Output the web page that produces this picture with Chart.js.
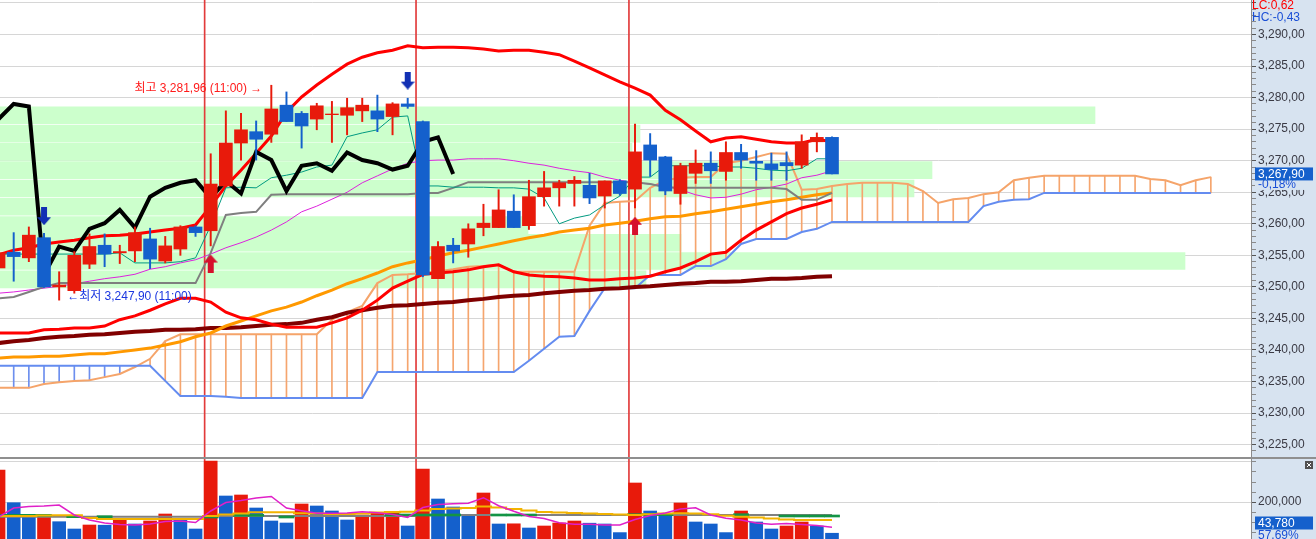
<!DOCTYPE html>
<html><head><meta charset="utf-8">
<script src="https://cdn.jsdelivr.net/npm/chart.js@4.4.1/dist/chart.umd.min.js"></script>
<style>
html,body{margin:0;padding:0;background:#fff;overflow:hidden}
#wrap{position:relative;width:1316px;height:539px}
#c1{position:absolute;left:0;top:0}
#sep{position:absolute;left:0;top:457px;width:1316px;height:2px;background:#8f8f8f}
#c2{position:absolute;left:0;top:459px}
</style></head><body>
<div id="wrap"><canvas id="c1" width="1316" height="457"></canvas><div id="sep"></div><canvas id="c2" width="1316" height="80"></canvas></div>
<script>
// ---------------- DATA ----------------
const opens  = [3253.0,3255.5,3254.6,3257.8,3250.0,3249.4,3253.6,3256.6,3255.4,3255.7,3257.6,3254.1,3256.0,3259.5,3258.9,3266.0,3272.8,3274.6,3274.2,3278.8,3277.5,3276.6,3277.3,3277.2,3277.9,3277.9,3277.0,3279.0,3276.2,3251.3,3256.6,3256.8,3259.4,3259.4,3262.0,3259.7,3264.3,3265.7,3266.4,3266.1,3264.4,3266.8,3265.5,3272.5,3270.6,3264.8,3268.0,3269.6,3268.3,3271.3,3269.9,3269.5,3269.7,3269.3,3273.0,3273.7];
const highs  = [3256.0,3258.6,3259.5,3258.5,3252.4,3255.6,3258.4,3258.4,3256.6,3259.5,3259.3,3258.0,3259.7,3259.7,3271.1,3277.9,3277.5,3276.3,3281.96,3280.9,3277.8,3279.1,3279.4,3279.9,3279.9,3280.4,3279.2,3279.9,3276.3,3257.2,3257.7,3260.0,3263.1,3265.4,3264.6,3266.9,3268.3,3266.9,3267.5,3268.0,3266.8,3267.0,3275.8,3274.3,3270.7,3269.6,3271.7,3271.4,3273.0,3272.6,3271.6,3271.2,3271.4,3274.1,3274.4,3273.8];
const lows   = [3252.5,3250.9,3254.0,3249.9,3247.9,3249.0,3252.9,3253.2,3253.7,3254.0,3252.9,3253.8,3255.0,3258.0,3256.5,3266.0,3270.1,3270.1,3272.9,3276.2,3272.0,3274.9,3272.9,3274.1,3276.2,3274.6,3274.1,3278.3,3251.6,3251.3,3253.8,3254.7,3258.1,3259.4,3259.4,3259.1,3262.8,3262.8,3262.8,3263.2,3262.5,3264.5,3262.5,3267.5,3264.6,3263.1,3266.4,3266.4,3266.9,3268.8,3266.9,3266.9,3266.9,3268.8,3271.4,3267.9];
const closes = [3255.4,3254.8,3258.2,3250.0,3250.3,3255.0,3256.4,3255.2,3255.6,3258.6,3254.4,3256.5,3259.5,3258.6,3266.3,3272.8,3274.9,3273.4,3278.2,3276.2,3275.5,3278.7,3277.4,3278.4,3278.8,3276.6,3279.0,3278.6,3251.9,3256.4,3255.7,3259.2,3260.1,3262.2,3259.4,3264.3,3265.7,3266.5,3266.9,3264.1,3266.8,3264.8,3271.4,3270.1,3265.2,3269.2,3269.6,3268.4,3271.3,3270.1,3269.6,3268.6,3269.2,3273.0,3273.7,3267.9];
const volumes = [360000,196500,130000,132000,101500,65000,85000,84000,110000,90000,105000,140000,110000,65000,405000,230000,235000,170000,105000,95000,190000,180000,155000,110000,135000,143500,148500,80000,365000,215000,175000,130000,245000,90000,91000,70000,80000,95000,105000,94000,90000,47000,295000,155000,140000,195000,100000,90000,47000,155000,100000,65000,80000,100000,80000,43780];

// Bollinger bands
const bbUpper = [3255.1,3255.8,3256.2,3256.8,3257.1,3257.4,3257.8,3258.1,3258.2,3258.4,3258.7,3259.0,3259.3,3259.8,3262.8,3266.0,3268.5,3271.2,3273.9,3277.7,3280.1,3282.0,3283.7,3285.3,3286.4,3287.1,3287.5,3288.2,3287.9,3288.0,3288.0,3287.9,3287.7,3287.4,3287.5,3287.5,3287.2,3286.8,3285.8,3284.7,3283.6,3282.5,3281.5,3280.4,3278.0,3276.5,3274.7,3273.0,3273.6,3273.8,3273.4,3273.0,3272.8,3272.8,3273.4,3273.0];
const bbMid   = [3249.0,3249.2,3249.5,3249.8,3250.1,3250.5,3250.9,3251.3,3251.6,3252.0,3252.8,3253.2,3253.8,3254.3,3255.2,3256.2,3257.0,3257.9,3259.0,3260.3,3261.9,3262.8,3263.9,3265.0,3266.5,3267.6,3268.7,3269.6,3270.0,3270.1,3270.1,3270.3,3270.3,3270.3,3270.0,3269.6,3269.3,3268.8,3268.4,3268.1,3267.4,3266.9,3266.5,3266.3,3266.0,3265.4,3264.6,3264.1,3264.2,3264.7,3265.4,3265.8,3266.3,3267.3,3267.7,3268.4];
const bbLower = [3242.7,3242.7,3242.7,3243.2,3243.3,3243.5,3243.5,3243.8,3244.8,3245.4,3246.3,3247.3,3248.2,3248.2,3247.6,3246.0,3245.1,3244.8,3244.1,3243.6,3243.6,3243.6,3244.3,3245.1,3246.3,3247.9,3249.8,3250.9,3252.0,3252.2,3252.4,3252.7,3253.2,3253.5,3252.4,3251.9,3251.7,3251.6,3251.4,3251.1,3251.1,3251.3,3251.4,3251.7,3252.4,3253.0,3254.0,3255.2,3255.5,3257.4,3259.0,3260.3,3261.6,3262.5,3263.1,3263.8];
// moving averages
const maMid  = [3238.7,3238.9,3238.9,3239.0,3239.0,3239.2,3239.4,3239.4,3239.7,3240.0,3240.3,3240.8,3241.3,3242.1,3242.7,3243.8,3244.6,3245.4,3246.2,3246.8,3247.6,3248.6,3249.5,3250.5,3251.3,3252.2,3253.2,3253.8,3254.3,3254.9,3255.4,3255.8,3256.3,3256.8,3257.3,3257.8,3258.2,3258.7,3259.0,3259.3,3259.8,3260.1,3260.4,3260.8,3261.1,3261.2,3261.6,3261.9,3262.3,3262.7,3263.1,3263.5,3263.8,3264.2,3264.6,3264.9];
const maLong = [3241.1,3241.4,3241.6,3241.9,3242.1,3242.2,3242.4,3242.5,3242.7,3242.9,3243.0,3243.2,3243.2,3243.3,3243.5,3243.5,3243.6,3243.8,3244.0,3244.1,3244.3,3244.8,3245.2,3245.9,3246.3,3246.7,3247.0,3247.1,3247.3,3247.5,3247.6,3247.9,3248.1,3248.4,3248.6,3248.7,3249.0,3249.2,3249.4,3249.5,3249.7,3249.8,3250.0,3250.1,3250.3,3250.5,3250.6,3250.8,3250.8,3250.9,3251.1,3251.3,3251.3,3251.4,3251.6,3251.7];
// Ichimoku
const tenkan = [3255.2,3255.2,3255.2,3255.2,3255.2,3255.2,3255.2,3255.2,3255.4,3253.8,3253.8,3253.8,3254.0,3254.6,3259.7,3265.7,3265.8,3265.7,3267.3,3267.7,3268.2,3269.0,3269.3,3273.8,3274.4,3274.9,3276.9,3277.1,3266.0,3266.0,3265.8,3265.8,3265.8,3265.7,3265.7,3265.5,3264.1,3260.0,3260.9,3261.4,3263.0,3264.4,3267.4,3267.4,3269.2,3269.2,3269.2,3269.2,3269.0,3269.0,3268.8,3268.5,3268.4,3268.8,3270.3,3270.3];
const kijun  = [3248.2,3248.4,3249.2,3250.0,3250.6,3250.6,3250.6,3250.6,3250.6,3250.6,3250.6,3250.6,3250.6,3250.6,3255.4,3261.4,3261.7,3261.9,3264.6,3264.7,3264.7,3264.7,3264.7,3264.7,3264.7,3264.7,3264.7,3264.7,3264.9,3264.9,3265.7,3266.6,3266.6,3266.6,3266.6,3266.6,3266.6,3266.6,3266.6,3266.6,3266.6,3266.6,3266.6,3266.3,3265.8,3265.7,3265.7,3265.7,3265.7,3265.7,3265.7,3265.7,3265.5,3263.8,3263.8,3264.9];
const spanA  = [3234.0,3234.0,3234.0,3234.6,3234.9,3235.1,3235.2,3235.7,3236.2,3237.3,3238.6,3241.4,3242.5,3242.5,3242.5,3242.5,3242.5,3242.5,3242.5,3242.5,3242.5,3242.5,3244.8,3246.0,3247.0,3250.6,3251.9,3252.0,3252.2,3252.5,3252.8,3253.2,3253.3,3253.5,3252.4,3252.4,3252.4,3252.4,3252.4,3259.7,3263.3,3263.5,3263.6,3265.7,3266.9,3267.3,3267.4,3267.4,3269.6,3270.0,3270.6,3271.2,3271.1,3265.4,3265.5,3266.0,3266.3,3266.5,3266.5,3266.5,3266.3,3265.2,3263.3,3263.9,3264.1,3264.7,3265.0,3266.9,3267.3,3267.6,3267.6,3267.6,3267.6,3267.6,3267.6,3267.6,3267.1,3266.9,3266.1,3266.9,3267.4];
const spanB  = [3237.5,3237.5,3237.5,3237.5,3237.5,3237.5,3237.5,3237.5,3237.5,3237.5,3237.5,3235.1,3232.7,3232.7,3232.7,3232.6,3232.4,3232.4,3232.4,3232.4,3232.4,3232.4,3232.4,3232.4,3232.4,3236.5,3236.5,3236.5,3236.5,3236.5,3236.5,3236.5,3236.5,3236.5,3236.5,3238.3,3240.2,3242.1,3242.2,3246.2,3249.8,3249.8,3249.8,3251.9,3251.9,3251.9,3253.3,3253.3,3254.4,3256.8,3257.6,3257.6,3257.6,3258.7,3259.2,3260.3,3260.3,3260.3,3260.3,3260.3,3260.3,3260.3,3260.3,3260.3,3260.3,3262.8,3263.5,3263.8,3263.9,3264.9,3264.9,3264.9,3264.9,3264.9,3264.9,3264.9,3264.9,3264.9,3264.9,3264.9,3264.9];
const LAG = 25; // lagging span shift (bars)

// price-by-volume profile
const profilePrice  = [3277.2,3274.3,3271.4,3268.5,3265.6,3262.7,3259.8,3257.0,3254.1,3251.2];
const profileVolume = [2190,1280,1264,1864,1828,436,1056,1362,2370,1292];

// volume indicators
const volMA5  = [125000,170000,177500,180000,185000,135000,110000,95000,87500,85000,90000,102500,105000,97500,155000,197500,207500,220000,227500,170000,156500,143500,143500,145000,151500,146500,137500,122500,172500,187500,191500,193500,221500,181500,153500,127500,117500,96500,88500,88500,85000,85000,112500,132500,145000,165000,171500,135000,118500,110000,95000,88500,92500,87500,82500,73500];
const volMA20 = [130000,130000,130000,132500,133500,133500,120000,115000,115000,115000,115000,115000,115000,115000,130000,137500,142500,148500,148500,148500,143500,142500,140000,140000,142500,147500,150000,151500,157500,165000,167500,170000,177500,172500,165000,157500,150000,147500,145000,142500,140000,137500,135000,138500,142500,143500,142500,138500,131000,126500,122500,117500,112500,110000,110000,110000];
const volBase = [126500,126500,126500,126500,126500,126500,126500,126500,126500,126500,126500,126500,126500,126500,130000,130000,130000,130000,130000,130000,130000,130000,130000,130000,130000,130000,130000,130000,135000,135000,135000,135000,135000,135000,135000,135000,135000,135000,135000,135000,135000,135000,135000,135000,135000,135000,135000,135000,135000,135000,135000,135000,135000,135000,135000,135000];
const volSignal = [133500,133500,133500,133500,null,126500,null,126500,null,null,null,null,null,null,125000,null,133500,133500,null,125000,null,null,null,null,null,null,135000,135000,135000,135000,135000,null,null,135000,135000,135000,null,null,null,null,null,null,136500,136500,136500,null,null,null,null,136500,null,null,130000,130000,130000,130000];

// session breaks (bar positions) and signals
const sessionBreaks = [13.6, 27.55, 41.6];
const sellSignals = [{x:3, y:3261.2}, {x:27, y:3282.7}];
const buySignals  = [{x:14, y:3253.7}, {x:42, y:3259.7}];
const extremeTime = '11:00';

// axis / side texts
const priceLabelTicks = [3225,3230,3235,3240,3245,3250,3255,3260,3265,3270,3275,3280,3285,3290];
const volLabelTicks = [200000];
const volGridTicks = [200000, 400000];
const lcText = 'LC:0,62', hcText = 'HC:-0,43';
const changePctText = '-0,18%';
const volPctText = '57,69%';

// ---------------- HELPERS ----------------
const Y_MIN = 3223.04, Y_MAX = 3295.47;
const V_MIN = 15000, V_MAX = 415000;
const X_MIN = 0.096, X_MAX = 82.65;
const AXIS_W = 65;
const UP = '#e81a0b', DOWN = '#1460cc', PANEL = '#d7e3f0';
const FONT = "'Liberation Sans', Arial, 'Noto Sans CJK KR', sans-serif";

function grp(s){ return s.replace(/\B(?=(\d{3})+(?!\d))/g, ','); }
function fmtPrice(v){ const [a,b] = v.toFixed(2).split('.'); return grp(a) + ',' + b; }
function fmtInt(v){ return grp(String(Math.round(v))); }
const pts = arr => arr.map((v,i) => ({x:i, y:v}));
const nopad = s => { s.paddingLeft = 0; s.paddingRight = 0; s.paddingTop = 0; s.paddingBottom = 0; };
function hx(){ return {type:'linear', axis:'x', display:false, min:X_MIN, max:X_MAX, offset:false, ticks:{display:false}, grid:{display:false}, afterFit:nopad}; }
function hidden(axis, min, max){ return {type:'linear', axis, display:false, min, max, offset:false, ticks:{display:false}, grid:{display:false}, afterFit:nopad}; }
function line(data, color, width, order, extra){ return Object.assign({type:'line', data, borderColor:color, borderWidth:width, pointRadius:0, tension:0, fill:false, xAxisID:'x', yAxisID:'y', order}, extra||{}); }
function bar(xAxisID, data, color, thick, order, extra){ return Object.assign({type:'bar', xAxisID, yAxisID:'y', data, backgroundColor:color, barThickness:thick, maxBarThickness:thick, grouped:false, borderWidth:0, order}, extra||{}); }

function arrowImg(color, down){
  const c = document.createElement('canvas'); c.width = 14; c.height = 18;
  const g = c.getContext('2d'); g.fillStyle = color; g.beginPath();
  if (down){ g.moveTo(4,0); g.lineTo(10,0); g.lineTo(10,10); g.lineTo(14,10); g.lineTo(7,18); g.lineTo(0,10); g.lineTo(4,10); }
  else { g.moveTo(7,0); g.lineTo(14,8); g.lineTo(10,8); g.lineTo(10,18); g.lineTo(4,18); g.lineTo(4,8); g.lineTo(0,8); }
  g.closePath(); g.fill(); return c;
}

const candleColors = closes.map((c,i) => c >= opens[i] ? UP : DOWN);
const volColors = volumes.map((v,i) => v >= (i ? volumes[i-1] : 0) ? UP : DOWN);
const chikou = closes.slice(LAG).map((c,k) => ({x:k, y:c}));
const priceMinorTicks = []; for (let v = 3224; v <= 3295; v++) priceMinorTicks.push(v);
const volMinorTicks = []; for (let v = 50000; v <= 400000; v += 50000) volMinorTicks.push(v);

// ---------------- PRICE CHART ----------------
const mainDeco = {
  id:'mainDeco',
  beforeDraw(chart){
    const {ctx, chartArea:a, width, height} = chart;
    ctx.save(); ctx.fillStyle = PANEL; ctx.fillRect(a.right, 0, width - a.right, height); ctx.restore();
  },
  afterDatasetsDraw(chart){
    const {ctx} = chart, sx = chart.scales.x, sy = chart.scales.y;
    const hi = Math.max(...highs), lo = Math.min(...lows);
    const hiI = highs.indexOf(hi), loI = lows.indexOf(lo);
    ctx.save();
    ctx.font = '12px ' + FONT; ctx.textBaseline = 'middle';
    ctx.fillStyle = '#ff1a1a'; ctx.textAlign = 'right';
    ctx.fillText('최고 ' + fmtPrice(hi) + ' (' + extremeTime + ') →', sx.getPixelForValue(hiI) - 9, sy.getPixelForValue(hi) + 3);
    ctx.fillStyle = '#1a36e0'; ctx.textAlign = 'left';
    ctx.fillText('←최저 ' + fmtPrice(lo) + ' (' + extremeTime + ')', sx.getPixelForValue(loI) + 8, sy.getPixelForValue(lo) - 3);
    ctx.restore();
  },
  afterDraw(chart){
    const {ctx, chartArea:a} = chart, sy = chart.scales.y;
    const x0 = a.right;
    ctx.save();
    ctx.font = '12px ' + FONT; ctx.textBaseline = 'middle'; ctx.textAlign = 'left';
    ctx.fillStyle = '#ff0000'; ctx.fillText(lcText, x0 + 1, 6);
    ctx.fillStyle = '#1a4fd6'; ctx.fillText(hcText, x0 + 1, 18);
    const last = closes[closes.length - 1];
    const y = sy.getPixelForValue(last);
    ctx.fillStyle = PANEL; ctx.fillRect(x0 + 4, y + 6, 58, 10);
    ctx.fillStyle = '#1a4fd6'; ctx.fillText(changePctText, x0 + 7, y + 11);
    ctx.fillStyle = '#1560cc'; ctx.fillRect(x0 + 4, y - 6.5, 58, 13);
    ctx.fillStyle = '#ffffff'; ctx.fillText(fmtPrice(last), x0 + 7, y + 0.5);
    ctx.restore();
  }
};

new Chart(document.getElementById('c1'), {
  type:'line',
  data:{ datasets:[
    {type:'bar', indexAxis:'y', xAxisID:'xv', yAxisID:'yp', data: profilePrice.map((p,k) => ({x:profileVolume[k], y:p})), backgroundColor:'#ccffcc', barThickness:17, maxBarThickness:17, grouped:false, borderWidth:0, order:100},
    bar('xs', sessionBreaks.map(b => ({x:b, y:[Y_MIN, Y_MAX]})), '#e23b3b', 1, 95),
    bar('xh', spanA.map((v,j) => ({x:j, y:[v, spanB[j]]})), spanA.map((v,j) => v >= spanB[j] ? '#f5a56e' : '#6d8fee'), 1, 90),
    line(pts(spanA), '#f5a46a', 2, 85),
    line(pts(spanB), '#648cf0', 2, 84),
    line(pts(maLong), '#800000', 4, 80),
    line(pts(maMid), '#ff9900', 3, 79),
    line(pts(bbUpper), '#ff0000', 3, 78),
    line(pts(bbLower), '#ff0000', 3, 78),
    line(pts(bbMid), '#dd22dd', 1, 77),
    line(pts(kijun), '#7f7f7f', 2, 76),
    line(pts(tenkan), '#009a80', 1, 75),
    line(chikou, '#000000', 4, 70),
    bar('xw', lows.map((l,i) => ({x:i, y:[l, highs[i]]})), candleColors, 1.3, 60),
    bar('xb', opens.map((o,i) => ({x:i, y:[o, closes[i]]})), candleColors, 13, 50),
    {type:'line', xAxisID:'x', yAxisID:'y', data: sellSignals, showLine:false, pointStyle: arrowImg('#1230b4', true), pointRadius:9, order:40},
    {type:'line', xAxisID:'x', yAxisID:'y', data: buySignals, showLine:false, pointStyle: arrowImg('#d6102c', false), pointRadius:9, order:40}
  ]},
  options:{
    responsive:false, animation:false, events:[],
    layout:{padding:0, autoPadding:false},
    plugins:{legend:{display:false}, tooltip:{enabled:false}},
    scales:{
      x:hx(), xs:hx(), xh:hx(), xw:hx(), xb:hx(),
      xv: hidden('x', 0, 2502),
      yp: hidden('y', Y_MIN, Y_MAX),
      y:{
        type:'linear', axis:'y', position:'right', min:Y_MIN, max:Y_MAX,
        afterBuildTicks: s => { s.ticks = priceMinorTicks.map(v => ({value:v})); },
        ticks:{ autoSkip:false, padding:2, color:'#3a3a44', font:{family:FONT, size:12},
          callback: v => priceLabelTicks.includes(v) ? fmtPrice(v) : '' },
        grid:{ drawTicks:true, tickLength:5,
          color: c => (c.tick && c.tick.value % 5 === 0) ? '#d6d6d6' : 'rgba(0,0,0,0)',
          tickColor: c => (c.tick && c.tick.value % 5 === 0) ? '#555' : '#8a8a8a' },
        border:{display:true, color:'#8a8a8a', width:1},
        afterFit: s => { s.width = AXIS_W; nopad(s); }
      }
    }
  },
  plugins:[mainDeco]
});

// ---------------- VOLUME CHART ----------------
const volDeco = {
  id:'volDeco',
  beforeDraw(chart){
    const {ctx, chartArea:a, width, height} = chart;
    ctx.save(); ctx.fillStyle = PANEL; ctx.fillRect(a.right, 0, width - a.right, height); ctx.restore();
  },
  afterDraw(chart){
    const {ctx, chartArea:a} = chart, sy = chart.scales.y;
    const x0 = a.right;
    const last = volumes[volumes.length - 1];
    const y = Math.min(sy.getPixelForValue(last), a.bottom - 16);
    ctx.save();
    ctx.font = '12px ' + FONT; ctx.textBaseline = 'middle'; ctx.textAlign = 'left';
    ctx.fillStyle = '#1560cc'; ctx.fillRect(x0 + 4, y - 6.5, 58, 13);
    ctx.fillStyle = '#ffffff'; ctx.fillText(fmtInt(last), x0 + 7, y + 0.5);
    ctx.fillStyle = '#1a4fd6'; ctx.fillText(volPctText, x0 + 7, y + 13);
    ctx.fillStyle = '#505050'; ctx.fillRect(x0 + 54, 2, 8, 8);
    ctx.strokeStyle = '#ffffff'; ctx.lineWidth = 1;
    ctx.beginPath(); ctx.moveTo(x0 + 56, 4); ctx.lineTo(x0 + 60, 8); ctx.moveTo(x0 + 60, 4); ctx.lineTo(x0 + 56, 8); ctx.stroke();
    ctx.restore();
  }
};

new Chart(document.getElementById('c2'), {
  type:'line',
  data:{ datasets:[
    bar('xs', sessionBreaks.map(b => ({x:b, y:[V_MIN, V_MAX]})), '#e23b3b', 1, 95),
    bar('xb', pts(volumes), volColors, 13, 60),
    Object.assign(line(pts(volBase), '#808080', 2, 50), {stepped:'middle'}),
    bar('xg', volSignal.map((v,i) => v == null ? null : ({x:i, y:[v - 5000, v + 5000]})).filter(Boolean), '#139445', 15.15, 45),
    Object.assign(line(pts(volMA20), '#f2b300', 2, 44), {stepped:'middle'}),
    line(pts(volMA5), '#e020c8', 1.5, 40)
  ]},
  options:{
    responsive:false, animation:false, events:[],
    layout:{padding:0, autoPadding:false},
    plugins:{legend:{display:false}, tooltip:{enabled:false}},
    scales:{
      x:hx(), xs:hx(), xb:hx(), xg:hx(),
      y:{
        type:'linear', axis:'y', position:'right', min:V_MIN, max:V_MAX,
        afterBuildTicks: s => { s.ticks = volMinorTicks.map(v => ({value:v})); },
        ticks:{ autoSkip:false, padding:2, color:'#3a3a44', font:{family:FONT, size:12},
          callback: v => volLabelTicks.includes(v) ? fmtInt(v) : '' },
        grid:{ drawTicks:true, tickLength:5,
          color: c => (c.tick && volGridTicks.includes(c.tick.value)) ? '#d6d6d6' : 'rgba(0,0,0,0)',
          tickColor: c => (c.tick && volLabelTicks.includes(c.tick.value)) ? '#555' : '#8a8a8a' },
        border:{display:true, color:'#8a8a8a', width:1},
        afterFit: s => { s.width = AXIS_W; nopad(s); }
      }
    }
  },
  plugins:[volDeco]
});
</script></body></html>
